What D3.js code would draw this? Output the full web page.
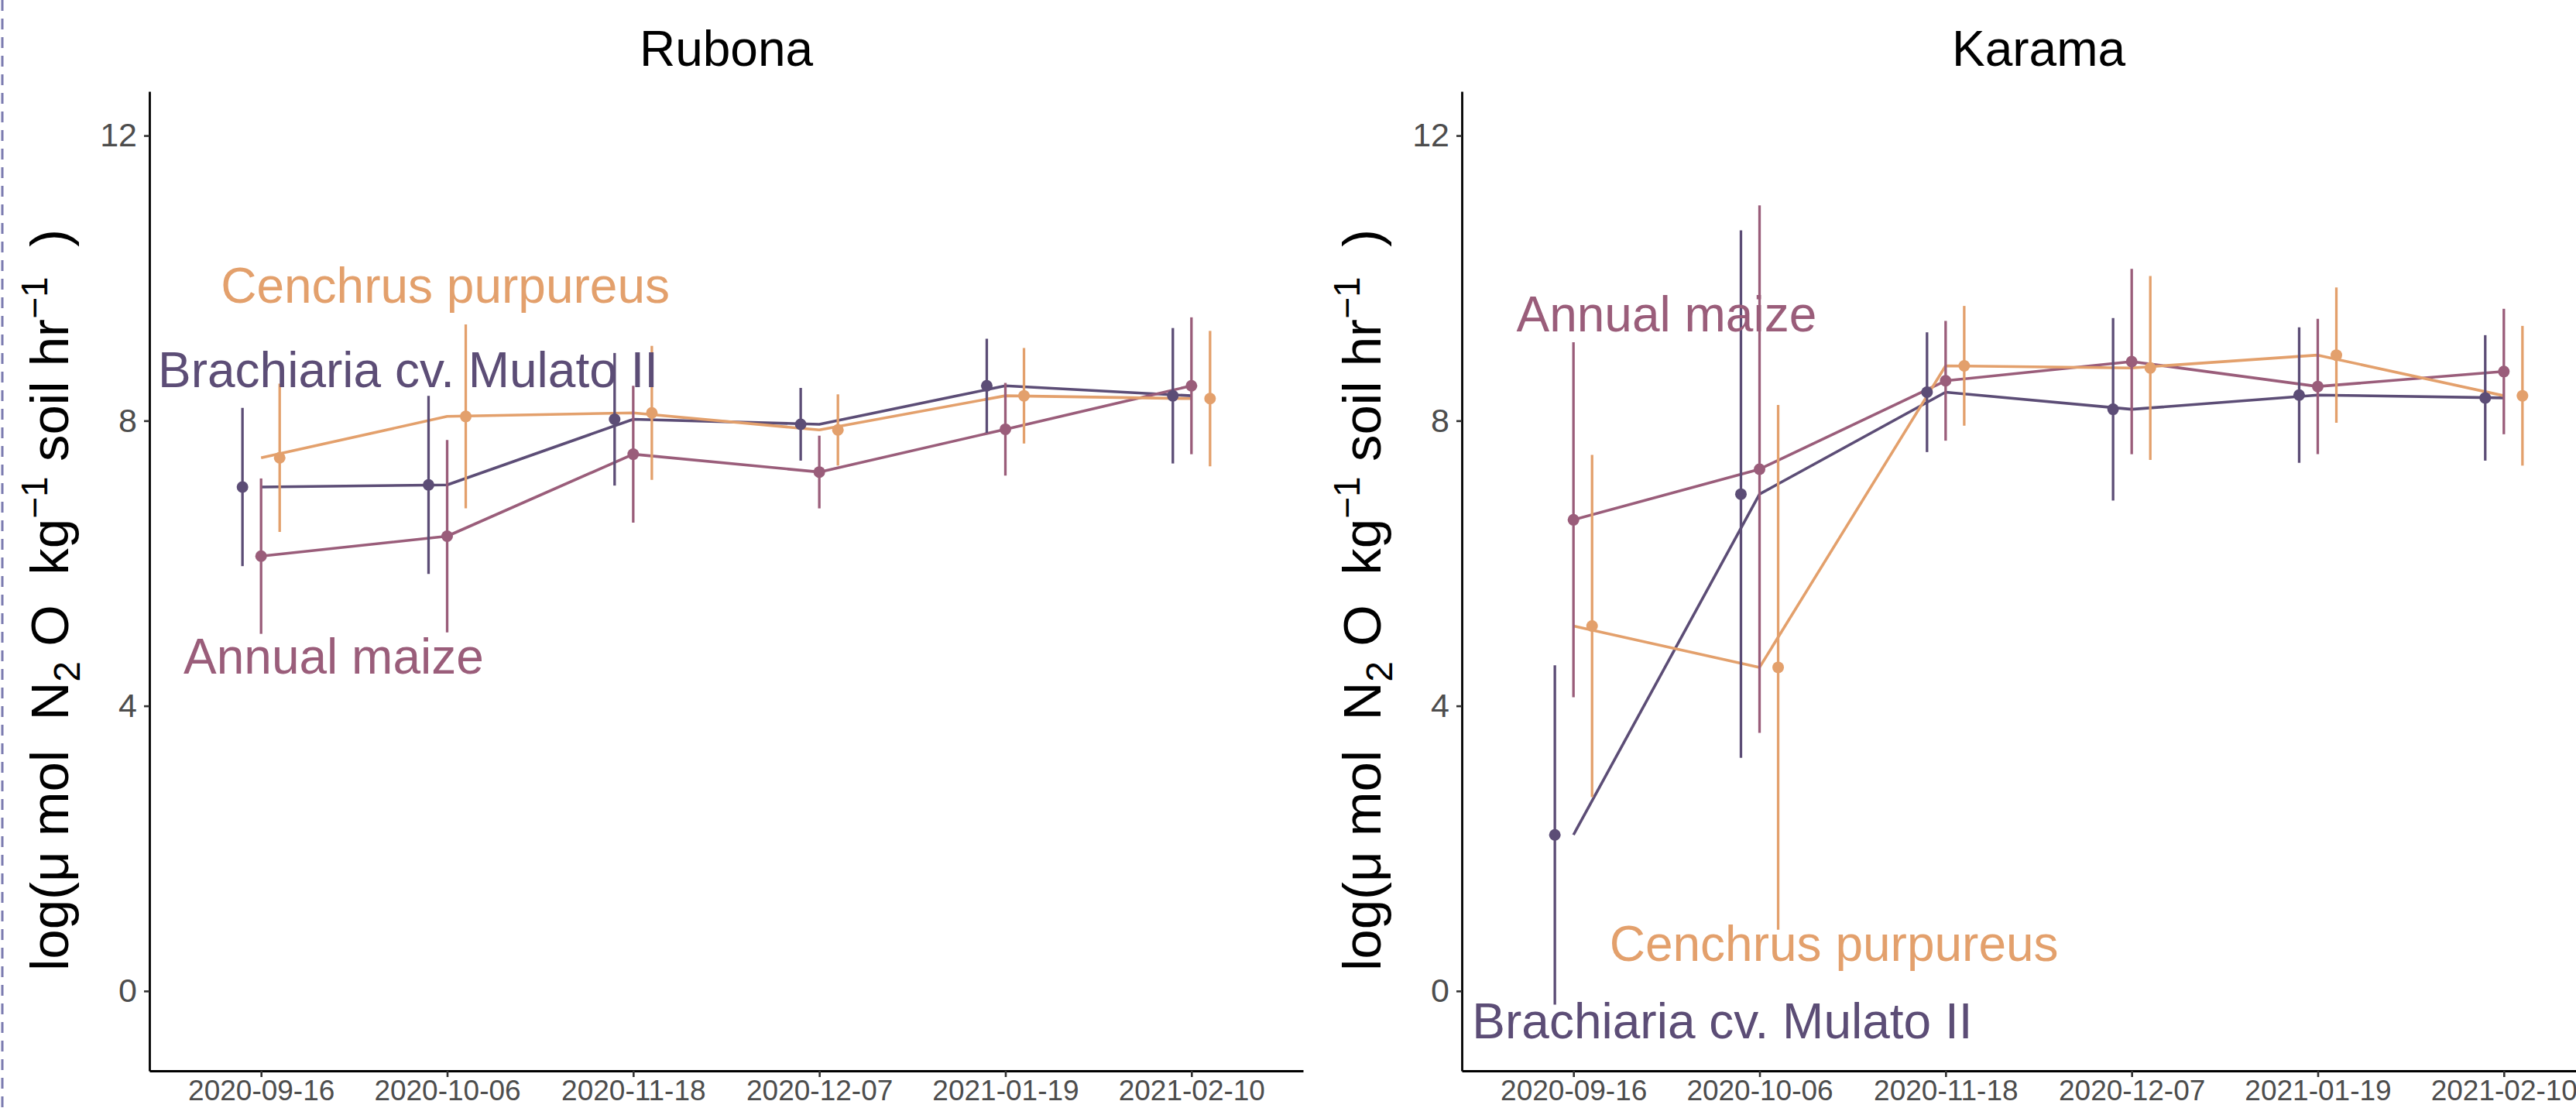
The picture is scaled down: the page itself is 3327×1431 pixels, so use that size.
<!DOCTYPE html>
<html>
<head>
<meta charset="utf-8">
<script src="https://cdn.jsdelivr.net/npm/d3@7"></script>
<style>
  html, body { margin: 0; padding: 0; background: #ffffff; }
  svg { display: block; }
  text { font-family: "Liberation Sans", Arial, Helvetica, sans-serif; }
</style>
</head>
<body>
<svg id="chart" width="3327" height="1431"></svg>
<script>
// ---------------- data ----------------
const dates = ["2020-09-16", "2020-10-06", "2020-11-18", "2020-12-07", "2021-01-19", "2021-02-10"];
const seriesNames = ["Brachiaria cv. Mulato II", "Annual maize", "Cenchrus purpureus"];
const seriesColors = ["#5c4d76", "#9a5d7a", "#e3a06c"];
const yTicks = [0, 4, 8, 12];
const sites = ["Rubona", "Karama"];

// Rubona (mean and half-width of error bar)
const rubonaBrachiaria    = [7.07, 7.10, 8.02, 7.95, 8.49, 8.35];
const rubonaBrachiariaErr = [1.11, 1.25, 0.93, 0.51, 0.66, 0.95];
const rubonaMaize         = [6.10, 6.38, 7.53, 7.28, 7.88, 8.49];
const rubonaMaizeErr      = [1.09, 1.35, 0.96, 0.51, 0.65, 0.96];
const rubonaCenchrus      = [7.48, 8.06, 8.11, 7.87, 8.35, 8.31];
const rubonaCenchrusErr   = [1.04, 1.29, 0.94, 0.50, 0.67, 0.95];

// Karama
const karamaBrachiaria    = [2.19, 6.97, 8.40, 8.16, 8.36, 8.32];
const karamaBrachiariaErr = [2.38, 3.70, 0.84, 1.28, 0.95, 0.88];
const karamaMaize         = [6.61, 7.32, 8.56, 8.83, 8.48, 8.69];
const karamaMaizeErr      = [2.49, 3.70, 0.84, 1.30, 0.95, 0.88];
const karamaCenchrus      = [5.12, 4.54, 8.77, 8.74, 8.92, 8.35];
const karamaCenchrusErr   = [2.40, 3.68, 0.84, 1.29, 0.95, 0.98];

// direct labels: [category position (index units), y value] per series
const rubonaLabelPos = [[0.79, 8.47], [0.39, 4.45], [0.99, 9.66]];
const karamaLabelPos = [[0.80, -0.66], [0.50, 9.25], [1.40, 0.42]];

// ---------------- build ----------------
const panelsData = [
  { site: sites[0], means: [rubonaBrachiaria, rubonaMaize, rubonaCenchrus],
    errs: [rubonaBrachiariaErr, rubonaMaizeErr, rubonaCenchrusErr], labels: rubonaLabelPos },
  { site: sites[1], means: [karamaBrachiaria, karamaMaize, karamaCenchrus],
    errs: [karamaBrachiariaErr, karamaMaizeErr, karamaCenchrusErr], labels: karamaLabelPos }
];

const svg = d3.select("#chart");
const W = 3327, H = 1431;

// left dashed frame line
svg.append("line")
  .attr("x1", 3).attr("x2", 3).attr("y1", 0).attr("y2", H)
  .attr("stroke", "#7b7bb0").attr("stroke-width", 3)
  .attr("stroke-dasharray", "14,10");

const plotTop = 118, plotBottom = 1383;
const panelLeft = [193, 1888];
const panelWidth = 1490;

const y = d3.scaleLinear().domain([-1.12, 12.62]).range([plotBottom, plotTop]);

panelsData.forEach((p, pi) => {
  const g = svg.append("g");
  const x = d3.scalePoint().domain(dates)
    .range([panelLeft[pi], panelLeft[pi] + panelWidth]).padding(0.6);
  const step = x.step();
  const dodge = i => (i - 1) * 0.1 * step;
  const idxX = v => x(dates[0]) + v * step;

  // title
  g.append("text")
    .attr("x", panelLeft[pi] + panelWidth / 2).attr("y", 85)
    .attr("text-anchor", "middle")
    .attr("font-size", 64).attr("fill", "#000")
    .text(p.site);

  // y axis title
  const yt = g.append("text")
    .attr("transform", `translate(${panelLeft[pi] - 105},775) rotate(-90)`)
    .attr("text-anchor", "middle")
    .attr("font-size", 69).attr("fill", "#000")
    .style("white-space", "pre");
  yt.append("tspan").text("log(\u03bc mol  N");
  yt.append("tspan").attr("font-size", 48).attr("dy", 15).text("2");
  yt.append("tspan").attr("dy", -15).text(" O  kg");
  yt.append("tspan").attr("font-size", 48).attr("dy", -27).text("\u22121");
  yt.append("tspan").attr("dy", 27).text(" soil hr");
  yt.append("tspan").attr("font-size", 48).attr("dy", -27).text("\u22121");
  yt.append("tspan").attr("dy", 27).text("  )");

  // lines (undodged)
  const lineGen = d3.line()
    .x((d, i) => x(dates[i]))
    .y(d => y(d));
  p.means.forEach((m, si) => {
    g.append("path")
      .datum(m)
      .attr("d", lineGen)
      .attr("fill", "none")
      .attr("stroke", seriesColors[si])
      .attr("stroke-width", 3.6)
      .attr("stroke-linejoin", "round");
  });

  // error bars and points (dodged)
  p.means.forEach((m, si) => {
    const e = p.errs[si];
    g.selectAll(null).data(m).enter().append("line")
      .attr("x1", (d, i) => x(dates[i]) + dodge(si))
      .attr("x2", (d, i) => x(dates[i]) + dodge(si))
      .attr("y1", (d, i) => y(d - e[i]))
      .attr("y2", (d, i) => y(d + e[i]))
      .attr("stroke", seriesColors[si])
      .attr("stroke-width", 3.3);
    g.selectAll(null).data(m).enter().append("circle")
      .attr("cx", (d, i) => x(dates[i]) + dodge(si))
      .attr("cy", d => y(d))
      .attr("r", 7.5)
      .attr("fill", seriesColors[si]);
  });

  // direct labels
  p.labels.forEach((lp, si) => {
    g.append("text")
      .attr("x", idxX(lp[0])).attr("y", y(lp[1]))
      .attr("text-anchor", "middle")
      .attr("font-size", 64)
      .attr("fill", seriesColors[si])
      .text(seriesNames[si]);
  });

  // axes
  const yAxis = d3.axisLeft(y).tickValues(yTicks).tickSize(7).tickSizeOuter(0).tickPadding(9)
    .tickFormat(d3.format("d"));
  const ya = g.append("g").attr("transform", `translate(${panelLeft[pi]},0)`).call(yAxis);
  const xAxis = d3.axisBottom(x).tickSize(8).tickSizeOuter(0).tickPadding(4);
  const xa = g.append("g").attr("transform", `translate(0,${plotBottom})`).call(xAxis);

  [ya, xa].forEach(a => {
    a.select(".domain").attr("stroke", "#000").attr("stroke-width", 2.8);
    a.selectAll(".tick line").attr("stroke", "#333").attr("stroke-width", 2.6);
    a.selectAll(".tick text").attr("fill", "#4d4d4d")
      .attr("font-family", "'Liberation Sans', Arial, sans-serif");
  });
  ya.selectAll(".tick text").attr("font-size", 43);
  xa.selectAll(".tick text").attr("font-size", 37);
});
</script>
</body>
</html>
